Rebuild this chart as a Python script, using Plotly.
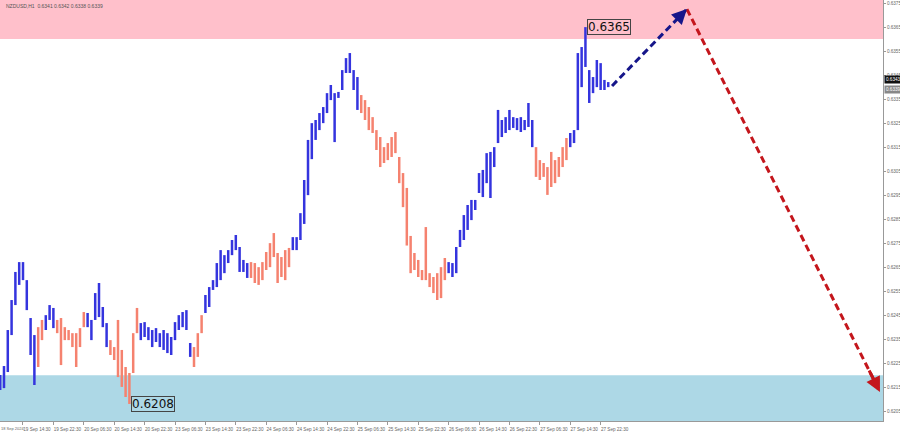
import plotly.graph_objects as go

symbol_title = "NZDUSD,H1  0.6341 0.6342 0.6338 0.6339"

highs = [
    0.62201, 0.62238, 0.62388, 0.62513, 0.62630, 0.62671, 0.62671, 0.62596, 0.62438, 0.62367,
    0.62400, 0.62430, 0.62450, 0.62492, 0.62480, 0.62430, 0.62438, 0.62400, 0.62388, 0.62375,
    0.62375, 0.62396, 0.62463, 0.62459, 0.62430, 0.62542, 0.62584, 0.62484, 0.62417, 0.62346,
    0.62317, 0.62430, 0.62305, 0.62234, 0.62209, 0.62375, 0.62480, 0.62417, 0.62421, 0.62400,
    0.62388, 0.62396, 0.62375, 0.62388, 0.62375, 0.62359, 0.62421, 0.62450, 0.62463, 0.62471,
    0.62334, 0.62317, 0.62375, 0.62450, 0.62534, 0.62567, 0.62596, 0.62667, 0.62721, 0.62700,
    0.62721, 0.62763, 0.62784, 0.62734, 0.62680, 0.62667, 0.62671, 0.62667, 0.62650, 0.62671,
    0.62713, 0.62750, 0.62792, 0.62709, 0.62692, 0.62721, 0.62730, 0.62775, 0.62775, 0.62875,
    0.63013, 0.63180, 0.63250, 0.63263, 0.63292, 0.63317, 0.63375, 0.63409, 0.63375, 0.63380,
    0.63471, 0.63521, 0.63542, 0.63471, 0.63442, 0.63367, 0.63346, 0.63317, 0.63275, 0.63221,
    0.63192, 0.63150, 0.63167, 0.63192, 0.63213, 0.63109, 0.63042, 0.62980, 0.62780, 0.62709,
    0.62680, 0.62638, 0.62817, 0.62625, 0.62609, 0.62625, 0.62650, 0.62688, 0.62671, 0.62667,
    0.62734, 0.62805, 0.62867, 0.62909, 0.62930, 0.62930, 0.63042, 0.63055, 0.63125, 0.63130,
    0.63150, 0.63305, 0.63263, 0.63275, 0.63305, 0.63275, 0.63271, 0.63275, 0.63263, 0.63334,
    0.63263, 0.63150, 0.63096, 0.63084, 0.63067, 0.63130, 0.63096, 0.63109, 0.63150, 0.63188,
    0.63209, 0.63221, 0.63542, 0.63567, 0.63650, 0.63471, 0.63442, 0.63513, 0.63500, 0.63430,
    0.63421,
]

lows = [
    0.62138, 0.62146, 0.62213, 0.62367, 0.62492, 0.62576, 0.62596, 0.62471, 0.62284, 0.62159,
    0.62234, 0.62346, 0.62388, 0.62430, 0.62396, 0.62375, 0.62242, 0.62346, 0.62346, 0.62317,
    0.62234, 0.62317, 0.62400, 0.62400, 0.62346, 0.62430, 0.62442, 0.62400, 0.62317, 0.62284,
    0.62263, 0.62192, 0.62151, 0.62109, 0.62080, 0.62209, 0.62375, 0.62346, 0.62359, 0.62346,
    0.62317, 0.62338, 0.62317, 0.62305, 0.62292, 0.62284, 0.62346, 0.62388, 0.62400, 0.62388,
    0.62276, 0.62234, 0.62276, 0.62375, 0.62459, 0.62484, 0.62555, 0.62567, 0.62596, 0.62625,
    0.62667, 0.62700, 0.62721, 0.62630, 0.62630, 0.62605, 0.62605, 0.62584, 0.62576, 0.62596,
    0.62638, 0.62650, 0.62692, 0.62584, 0.62609, 0.62596, 0.62650, 0.62721, 0.62721, 0.62763,
    0.62830, 0.62950, 0.63100, 0.63180, 0.63221, 0.63250, 0.63292, 0.63346, 0.63171, 0.63355,
    0.63388, 0.63459, 0.63459, 0.63388, 0.63305, 0.63292, 0.63263, 0.63221, 0.63209, 0.63138,
    0.63067, 0.63084, 0.63096, 0.63109, 0.63125, 0.63000, 0.62900, 0.62740, 0.62625, 0.62638,
    0.62609, 0.62596, 0.62596, 0.62567, 0.62542, 0.62513, 0.62521, 0.62596, 0.62625, 0.62609,
    0.62625, 0.62734, 0.62763, 0.62805, 0.62846, 0.62888, 0.62959, 0.62942, 0.63000, 0.62938,
    0.63067, 0.63167, 0.63192, 0.63209, 0.63221, 0.63230, 0.63221, 0.63213, 0.63221, 0.63234,
    0.63150, 0.63026, 0.63013, 0.63026, 0.62951, 0.62984, 0.63000, 0.63026, 0.63067, 0.63096,
    0.63150, 0.63167, 0.63221, 0.63400, 0.63484, 0.63334, 0.63375, 0.63400, 0.63388, 0.63388,
    0.63400,
]

# (first bar, last bar, wave direction)
wave_segments = [
    (0, 9, "up"), (10, 11, "down"), (12, 14, "up"), (15, 22, "down"),
    (23, 28, "up"), (29, 36, "down"), (37, 50, "up"), (51, 53, "down"),
    (54, 65, "up"), (66, 76, "down"), (77, 94, "up"), (95, 117, "down"),
    (118, 140, "up"), (141, 149, "down"), (150, 160, "up"),
]

time_tick_bars = [6, 14, 22, 30, 38, 46, 54, 62, 70, 78, 86, 94, 102, 110, 118, 126, 134, 142, 150, 158]
time_tick_labels = [
    "19 Sep 14:30", "19 Sep 22:30", "20 Sep 06:30", "20 Sep 14:30", "20 Sep 22:30",
    "23 Sep 06:30", "23 Sep 14:30", "23 Sep 22:30", "24 Sep 06:30", "24 Sep 14:30",
    "24 Sep 22:30", "25 Sep 06:30", "25 Sep 14:30", "25 Sep 22:30", "26 Sep 06:30",
    "26 Sep 14:30", "26 Sep 22:30", "27 Sep 06:30", "27 Sep 14:30", "27 Sep 22:30",
]
first_date_label = "18 Sep 2024"

price_ticks = [0.6205, 0.6215, 0.6225, 0.6235, 0.6245, 0.6255, 0.6265, 0.6275, 0.6285,
               0.6295, 0.6305, 0.6315, 0.6325, 0.6335, 0.6345, 0.6355, 0.6365, 0.6375]

resistance_zone = [0.6360, 0.6385]
support_zone = [0.6195, 0.6220]

forecast_bars = [161, 180.7, 231.5]
forecast_prices = [0.63405, 0.63725, 0.62130]

low_point = [34, 0.6208]
high_point = [154, 0.6365]

bid_price = 0.6343
last_close = 0.6339

# ---------------------------------------------------------------
BLUE = "#3434de"
SALMON = "#f5826f"
colors = {"up": BLUE, "down": SALMON}
SMALL = dict(family="Liberation Sans Narrow, Liberation Sans", size=4.6, color="#666")

fig = go.Figure()

# zones
fig.add_shape(type="rect", xref="paper", yref="y", x0=0, x1=1,
              y0=resistance_zone[0], y1=resistance_zone[1],
              fillcolor="#ffc0cb", line_width=0, layer="below")
fig.add_shape(type="rect", xref="paper", yref="y", x0=0, x1=1,
              y0=support_zone[0], y1=support_zone[1],
              fillcolor="#add8e6", line_width=0, layer="below")

for direction in ["down", "up"]:
    xs, ys = [], []
    for first, last, d in wave_segments:
        if d != direction:
            continue
        for i in range(first, last + 1):
            xs += [i, i, None]
            ys += [lows[i], highs[i], None]
    fig.add_trace(go.Scatter(x=xs, y=ys, mode="lines",
                             line=dict(color=colors[direction], width=2.5),
                             hoverinfo="skip", showlegend=False))

# forecast arrows
NAVY = "#16168a"
RED = "#c4161c"
fig.add_trace(go.Scatter(x=forecast_bars[:2], y=forecast_prices[:2], mode="lines",
                         line=dict(color=NAVY, width=3, dash="7px,4px"),
                         hoverinfo="skip", showlegend=False))
fig.add_trace(go.Scatter(x=forecast_bars[1:], y=forecast_prices[1:], mode="lines",
                         line=dict(color=RED, width=3, dash="7px,4px"),
                         hoverinfo="skip", showlegend=False))

def head(p0, p1, color, frac):
    ax = p0[0] + frac * (p1[0] - p0[0])
    ay = p0[1] + frac * (p1[1] - p0[1])
    fig.add_annotation(x=p1[0], y=p1[1], ax=ax, ay=ay, xref="x", yref="y",
                       axref="x", ayref="y", text="", showarrow=True,
                       arrowhead=2, arrowsize=1.0, arrowwidth=3,
                       arrowcolor=color, standoff=0)

head((forecast_bars[0], forecast_prices[0]), (forecast_bars[1], forecast_prices[1]), NAVY, 0.85)
head((forecast_bars[1], forecast_prices[1]), (forecast_bars[2], forecast_prices[2]), RED, 0.94)

# price labels
for (bx, py) in [high_point, low_point]:
    fig.add_annotation(x=bx, y=py, xref="x", yref="y", text=f"{py:.4f}",
                       showarrow=False, xanchor="left", yanchor="middle",
                       xshift=2, font=dict(family="DejaVu Sans", size=12, color="#111"),
                       bordercolor="#444", borderwidth=1, borderpad=0)

# title
fig.add_annotation(x=0.004, y=0.997, xref="paper", yref="paper", text=symbol_title,
                   showarrow=False, xanchor="left", yanchor="top",
                   font=dict(family="Liberation Sans", size=5, color="#555"))

# first date label at the left edge
fig.add_annotation(x=0, y=0, xref="paper", yref="paper", text=first_date_label,
                   showarrow=False, xanchor="left", yanchor="top", yshift=-4,
                   borderpad=0,
                   font=dict(family="Liberation Sans Narrow, Liberation Sans", size=4, color="#666"))

# price boxes on the right axis
fig.add_annotation(x=1, y=bid_price, xref="paper", yref="y", text=f"{bid_price:.4f}",
                   showarrow=False, xanchor="left", yanchor="middle", xshift=1,
                   bgcolor="#111", font=dict(family="Liberation Sans Narrow, Liberation Sans", size=4.6, color="#fff"))
fig.add_annotation(x=1, y=last_close, xref="paper", yref="y", text=f"{last_close:.4f}",
                   showarrow=False, xanchor="left", yanchor="middle", xshift=1,
                   bgcolor="#888", font=dict(family="Liberation Sans Narrow, Liberation Sans", size=4.6, color="#fff"))

fig.update_layout(
    width=900, height=434,
    margin=dict(l=0, r=17, t=0, b=13),
    paper_bgcolor="white", plot_bgcolor="white",
    showlegend=False,
    xaxis=dict(range=[-0.05, 232.3], tickvals=time_tick_bars, ticktext=time_tick_labels,
               ticks="outside", ticklen=3, tickcolor="#999", ticklabelshift=14,
               tickangle=0, tickfont=SMALL,
               showgrid=False, zeroline=False, showline=True, linecolor="#999",
               linewidth=1, automargin=False),
    yaxis=dict(range=[0.62009, 0.63763], side="right", tickvals=price_ticks,
               ticktext=[f"{v:.4f}" for v in price_ticks],
               ticks="outside", ticklen=2, tickcolor="#999", tickfont=SMALL,
               showgrid=False, zeroline=False, showline=True, linecolor="#999",
               linewidth=1, automargin=False),
)

fig.write_html("out.html", config={"displayModeBar": False},
               post_script="document.body.style.margin='0px';document.body.style.overflow='hidden';")
